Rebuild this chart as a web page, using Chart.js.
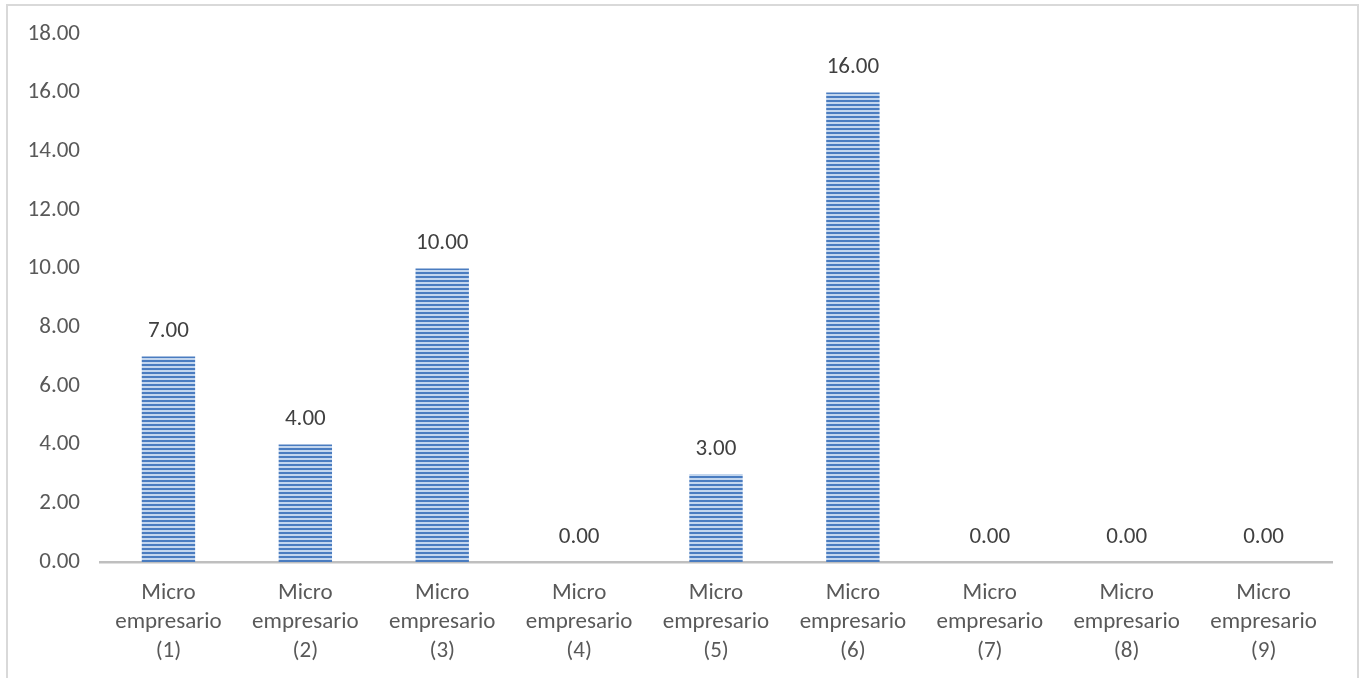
<!DOCTYPE html>
<html>
<head>
<meta charset="utf-8">
<script src="https://cdn.jsdelivr.net/npm/chart.js@4/dist/chart.umd.min.js"></script>
<style>
  html, body { margin: 0; padding: 0; background: #fff; overflow: hidden; }
  #marco {
    position: absolute; left: 6px; top: 4px; width: 1353px; height: 720px;
    border: 2px solid #d9d9d9; box-sizing: border-box;
  }
  #wrap { position: absolute; left: 0; top: 0; width: 1368px; height: 678px; }
</style>
</head>
<body>
<div id="marco"></div>
<div id="wrap"><canvas id="grafico" width="1368" height="678"></canvas></div>
<script>
// datos del gráfico
const categorias = [
  ['Micro', 'empresario', '(1)'],
  ['Micro', 'empresario', '(2)'],
  ['Micro', 'empresario', '(3)'],
  ['Micro', 'empresario', '(4)'],
  ['Micro', 'empresario', '(5)'],
  ['Micro', 'empresario', '(6)'],
  ['Micro', 'empresario', '(7)'],
  ['Micro', 'empresario', '(8)'],
  ['Micro', 'empresario', '(9)']
];
const valores = [7, 4, 10, 0, 3, 16, 0, 0, 0];
const ejeMax = 18;
const ejePaso = 2;

const fuente = "Carlito, Calibri, Lato, 'Open Sans', sans-serif";

// patrón de rayas horizontales (como el relleno de Excel)
function crearRayas() {
  const c = document.createElement('canvas');
  c.width = 4; c.height = 4;
  const g = c.getContext('2d');
  g.fillStyle = '#4a7cc0';
  g.fillRect(0, 0, 4, 2);
  g.fillStyle = '#c3d6ee';
  g.fillRect(0, 2, 4, 2);
  return g.createPattern(c, 'repeat');
}

// etiquetas de valor encima de cada barra
const etiquetas = {
  id: 'etiquetas',
  afterDatasetsDraw(chart) {
    const ctx = chart.ctx;
    const meta = chart.getDatasetMeta(0);
    ctx.save();
    ctx.font = '23px ' + fuente;
    ctx.fillStyle = '#404040';
    ctx.textAlign = 'center';
    ctx.textBaseline = 'middle';
    meta.data.forEach((barra, i) => {
      ctx.fillText(valores[i].toFixed(2), barra.x, barra.y - 25);
    });
    ctx.restore();
  }
};

const ctx = document.getElementById('grafico').getContext('2d');
new Chart(ctx, {
  type: 'bar',
  data: {
    labels: categorias,
    datasets: [{
      data: valores,
      backgroundColor: crearRayas(),
      borderWidth: 0,
      barPercentage: 0.39,
      categoryPercentage: 1
    }]
  },
  options: {
    responsive: false,
    animation: false,
    layout: { padding: { left: 0, top: 32, right: 36, bottom: 0 } },
    plugins: { legend: { display: false }, tooltip: { enabled: false } },
    scales: {
      y: {
        min: 0, max: ejeMax,
        ticks: {
          stepSize: ejePaso, padding: 20, color: '#595959',
          font: { size: 23, family: fuente },
          callback: v => v.toFixed(2)
        },
        grid: { display: false, drawTicks: false },
        border: { display: false },
        afterFit(scale) { scale.width = 100; }
      },
      x: {
        ticks: {
          padding: 17, color: '#595959', maxRotation: 0, autoSkip: false,
          font: { size: 23, family: fuente, lineHeight: 1.26 }
        },
        grid: { display: false, drawTicks: false },
        border: { display: true, color: '#bfbfbf', width: 2.5 },
        afterFit(scale) { scale.height = 116; }
      }
    }
  },
  plugins: [etiquetas]
});
</script>
</body>
</html>
